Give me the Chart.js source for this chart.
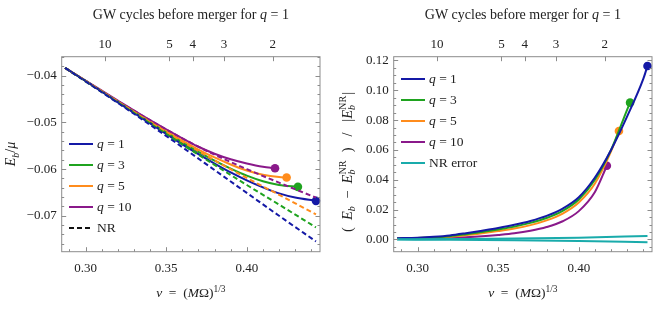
<!DOCTYPE html>
<html>
<head>
<meta charset="utf-8">
<script src="https://cdn.jsdelivr.net/npm/chart.js@4.4.1/dist/chart.umd.min.js"></script>
<style>
  html, body { margin: 0; padding: 0; background: #fff; }
  #wrap { display: flex; width: 664px; height: 309px; }
  canvas { display: block; }
</style>
</head>
<body>
<div id="wrap">
  <canvas id="left" width="332" height="309"></canvas>
  <canvas id="right" width="332" height="309"></canvas>
</div>
<script>
// ---- data ----
// left panel: binding energy E_b/mu vs v
const vNR   = [0.2873, 0.30, 0.32, 0.34, 0.36, 0.38, 0.40, 0.42, 0.4429];
const nrQ1  = [-0.0383, -0.0412, -0.0458, -0.0505, -0.0553, -0.0602, -0.0651, -0.0700, -0.0755];
const nrQ3  = [-0.0383, -0.0412, -0.0457, -0.0502, -0.0547, -0.0591, -0.0634, -0.0676, -0.0725];
const nrQ5  = [-0.0383, -0.0411, -0.0455, -0.0499, -0.0541, -0.0581, -0.0619, -0.0655, -0.0697];
const nrQ10 = [-0.0383, -0.0411, -0.0454, -0.0495, -0.0534, -0.0569, -0.0600, -0.0629, -0.0661];

const vQ1  = [0.2873, 0.30, 0.32, 0.34, 0.36, 0.37, 0.38, 0.39, 0.40, 0.41, 0.42, 0.43, 0.4429];
const eQ1  = [-0.0383, -0.0411, -0.0457, -0.0502, -0.0547, -0.0568, -0.0588, -0.0607, -0.0624, -0.0639, -0.0652, -0.0661, -0.0668];
const vQ3  = [0.2873, 0.30, 0.32, 0.34, 0.36, 0.37, 0.38, 0.39, 0.40, 0.41, 0.42, 0.4317];
const eQ3  = [-0.0383, -0.0411, -0.0456, -0.0500, -0.0543, -0.0563, -0.0582, -0.0599, -0.0614, -0.0626, -0.0634, -0.0638];
const vQ5  = [0.2873, 0.30, 0.32, 0.34, 0.36, 0.37, 0.38, 0.39, 0.40, 0.41, 0.42, 0.4247];
const eQ5  = [-0.0383, -0.0411, -0.0455, -0.0498, -0.0539, -0.0558, -0.0575, -0.0590, -0.0603, -0.0612, -0.0617, -0.0618];
const vQ10 = [0.2873, 0.30, 0.32, 0.34, 0.36, 0.37, 0.38, 0.39, 0.40, 0.41, 0.4175];
const eQ10 = [-0.0383, -0.0410, -0.0453, -0.0495, -0.0534, -0.0552, -0.0567, -0.0579, -0.0588, -0.0595, -0.0598];

// right panel: relative error vs NR
const vR1  = [0.2873, 0.30, 0.31, 0.32, 0.33, 0.34, 0.35, 0.36, 0.37, 0.38, 0.39, 0.40, 0.41, 0.42, 0.43, 0.44, 0.4426];
const rQ1  = [0.0008, 0.0012, 0.0018, 0.0027, 0.0042, 0.0059, 0.0077, 0.0098, 0.0124, 0.0158, 0.0207, 0.0283, 0.0415, 0.0600, 0.0825, 0.1076, 0.1163];
const vR3  = [0.2873, 0.30, 0.31, 0.32, 0.33, 0.34, 0.35, 0.36, 0.37, 0.38, 0.39, 0.40, 0.41, 0.42, 0.43, 0.4318];
const rQ3  = [0.0007, 0.0010, 0.0015, 0.0022, 0.0035, 0.0050, 0.0067, 0.0086, 0.0111, 0.0144, 0.0192, 0.0268, 0.0400, 0.0600, 0.0870, 0.0917];
const vR5  = [0.2873, 0.30, 0.31, 0.32, 0.33, 0.34, 0.35, 0.36, 0.37, 0.38, 0.39, 0.40, 0.41, 0.42, 0.4249];
const rQ5  = [0.0006, 0.0009, 0.0013, 0.0019, 0.0028, 0.0041, 0.0056, 0.0073, 0.0096, 0.0128, 0.0174, 0.0248, 0.0375, 0.0590, 0.0727];
const vR10 = [0.2873, 0.30, 0.31, 0.32, 0.33, 0.34, 0.35, 0.36, 0.37, 0.38, 0.39, 0.40, 0.41, 0.4174];
const rQ10 = [0.0004, 0.0005, 0.0008, 0.0011, 0.0015, 0.0021, 0.0030, 0.0041, 0.0058, 0.0083, 0.0122, 0.0190, 0.0318, 0.0494];
const vErr  = [0.2873, 0.32, 0.36, 0.40, 0.4426];
const errUp = [0.0001, 0.0003, 0.0006, 0.0012, 0.0024];
const errLo = [-0.0001, -0.0002, -0.0005, -0.0010, -0.0019];

// axes
const xMin = 0.2852, xMax = 0.4454;
const xTicks = [0.30, 0.35, 0.40];
const cycleV = [0.3121, 0.3520, 0.3665, 0.3859, 0.4161];
const cycleLabels = ['10', '5', '4', '3', '2'];
const leftYTicks = [-0.07, -0.06, -0.05, -0.04];
const rightYTicks = [0.00, 0.02, 0.04, 0.06, 0.08, 0.10, 0.12];

const SERIF = '"Liberation Serif", "DejaVu Serif", serif';
const C = { q1: '#1419a6', q3: '#1fa31f', q5: '#ff8c1c', q10: '#8a198a', err: '#19abab', nr: '#111' };

function range(a, b, step) {
  const out = [];
  for (let v = a; v <= b + 1e-9; v += step) out.push(+v.toFixed(4));
  return out;
}

function pts(xs, ys) { return xs.map((x, i) => ({ x: x, y: ys[i] })); }

function solid(label, xs, ys, color) {
  return {
    label: label, data: pts(xs, ys), showLine: true,
    borderColor: color, backgroundColor: color, borderWidth: 2,
    cubicInterpolationMode: 'monotone', clip: false,
    pointRadius: c => c.dataIndex === c.dataset.data.length - 1 ? 4.3 : 0,
    pointBorderWidth: 0, pointBackgroundColor: color
  };
}

function dashed(label, xs, ys, color) {
  return {
    label: label, data: pts(xs, ys), showLine: true,
    borderColor: color, borderWidth: 2, borderDash: [5, 3],
    cubicInterpolationMode: 'monotone', pointRadius: 0
  };
}

function plain(label, xs, ys, color) {
  return {
    label: label, data: pts(xs, ys), showLine: true,
    borderColor: color, borderWidth: 2,
    cubicInterpolationMode: 'monotone', pointRadius: 0
  };
}

// rich text: segments {t, i (italic), s (scale), dy} or {sub, sup}
function fnt(size, italic) { return (italic ? 'italic ' : '') + size + 'px ' + SERIF; }

function segW(ctx, sg, size) {
  if (sg.sub !== undefined) {
    ctx.font = fnt(size * 0.7, true);
    const a = ctx.measureText(sg.sub).width;
    ctx.font = fnt(size * 0.7, false);
    const b = ctx.measureText(sg.sup).width;
    return Math.max(a, b) + 1;
  }
  ctx.font = fnt(size * (sg.s || 1), sg.i);
  return ctx.measureText(sg.t).width;
}

function drawRich(ctx, segs, x0, y0, size, align, angle) {
  ctx.save();
  ctx.translate(x0, y0);
  ctx.rotate(angle || 0);
  const total = segs.reduce((a, sg) => a + segW(ctx, sg, size), 0);
  let x = align === 'left' ? 0 : -total / 2;
  const base = size * 0.32;
  ctx.textAlign = 'left';
  ctx.textBaseline = 'alphabetic';
  ctx.fillStyle = '#222';
  segs.forEach(sg => {
    const w = segW(ctx, sg, size);
    if (sg.sub !== undefined) {
      ctx.font = fnt(size * 0.7, true);
      ctx.fillText(sg.sub, x, base + size * 0.25);
      ctx.font = fnt(size * 0.7, false);
      ctx.fillText(sg.sup, x, base - size * 0.42);
    } else {
      ctx.font = fnt(size * (sg.s || 1), sg.i);
      ctx.fillText(sg.t, x, base + (sg.dy || 0) * size);
    }
    x += w;
  });
  ctx.restore();
}

const titleSegs = [{ t: 'GW cycles before merger for ' }, { t: 'q', i: true }, { t: ' = 1' }];
const xTitleSegs = [{ t: 'v', i: true }, { t: '  =  (' }, { t: 'M', i: true }, { t: 'Ω)' }, { t: '1/3', s: 0.7, dy: -0.42 }];
const leftYTitle = [{ t: 'E', i: true }, { t: 'b', i: true, s: 0.7, dy: 0.25 }, { t: '/' }, { t: 'μ', i: true }];
const rightYTitle = [
  { t: '(  ' }, { t: 'E', i: true }, { t: 'b', i: true, s: 0.7, dy: 0.25 }, { t: '  −  ' },
  { t: 'E', i: true }, { sub: 'b', sup: 'NR' }, { t: '  )   /   |' },
  { t: 'E', i: true }, { sub: 'b', sup: 'NR' }, { t: '|' }
];
function qSegs(n) { return [{ t: 'q', i: true }, { t: ' = ' + n }]; }

const decoPlugin = {
  id: 'deco',
  beforeDraw(chart) {
    const ctx = chart.ctx;
    ctx.save();
    ctx.fillStyle = '#fff';
    ctx.fillRect(0, 0, chart.width, chart.height);
    ctx.restore();
  },
  afterDraw(chart, args, o) {
    const ctx = chart.ctx, a = chart.chartArea, sx = chart.scales.x, sy = chart.scales.y;
    ctx.save();
    ctx.strokeStyle = '#8c8c8c';
    ctx.lineWidth = 1;
    ctx.strokeRect(a.left, a.top, a.right - a.left, a.bottom - a.top);
    const seg = (x1, y1, x2, y2) => { ctx.beginPath(); ctx.moveTo(x1, y1); ctx.lineTo(x2, y2); ctx.stroke(); };
    range(0.29, 0.44, 0.01).forEach(v => {
      const x = Math.round(sx.getPixelForValue(v)) + 0.5;
      const len = xTicks.some(t => Math.abs(t - v) < 1e-6) ? 4.5 : 2.5;
      seg(x, a.bottom, x, a.bottom - len);
    });
    cycleV.forEach(v => {
      const x = Math.round(sx.getPixelForValue(v)) + 0.5;
      seg(x, a.top, x, a.top + 4.5);
    });
    o.yMinor.forEach(v => {
      const y = Math.round(sy.getPixelForValue(v)) + 0.5;
      if (y < a.top || y > a.bottom) return;
      const len = o.yMajor.some(t => Math.abs(t - v) < 1e-6) ? 4.5 : 2.5;
      seg(a.left, y, a.left + len, y);
      seg(a.right, y, a.right - len, y);
    });
    const cx = (a.left + a.right) / 2;
    drawRich(ctx, titleSegs, cx, 15, 14, 'center');
    drawRich(ctx, xTitleSegs, cx, 293, 13.5, 'center');
    drawRich(ctx, o.yTitle, o.yTitleX, o.yTitleY, o.yTitleSize, 'center', -Math.PI / 2);
    o.legend.forEach((e, i) => {
      const y = o.legendY + i * 21;
      ctx.strokeStyle = e.color;
      ctx.lineWidth = 2;
      ctx.setLineDash(e.dash ? [5, 3] : []);
      seg(69, y, 93, y);
      ctx.setLineDash([]);
      drawRich(ctx, e.segs, 97, y, 13.5, 'left');
    });
    ctx.restore();
  }
};

function buildChart(id, datasets, yMin, yMax, yTicks, yFmt, deco) {
  const tickFont = { family: SERIF, size: 13 };
  return new Chart(document.getElementById(id), {
    type: 'scatter',
    data: { datasets: datasets },
    options: {
      responsive: false,
      animation: false,
      layout: { padding: { left: 0, right: 12, top: 0, bottom: 0 } },
      plugins: { legend: { display: false }, tooltip: { enabled: false }, deco: deco },
      scales: {
        x: {
          type: 'linear', position: 'bottom', min: xMin, max: xMax,
          grid: { display: false, drawTicks: false }, border: { display: false },
          ticks: { font: tickFont, color: '#222', padding: 9, maxRotation: 0, callback: v => v.toFixed(2) },
          afterBuildTicks: s => { s.ticks = xTicks.map(v => ({ value: v })); },
          afterFit: s => { s.height = 57.3; }
        },
        x2: {
          type: 'linear', position: 'top', min: xMin, max: xMax,
          grid: { display: false, drawTicks: false }, border: { display: false },
          ticks: { font: tickFont, color: '#222', padding: 4, maxRotation: 0, callback: (v, i) => cycleLabels[i] },
          afterBuildTicks: s => { s.ticks = cycleV.map(v => ({ value: v })); },
          afterFit: s => { s.height = 56.7; }
        },
        y: {
          type: 'linear', min: yMin, max: yMax,
          grid: { display: false, drawTicks: false }, border: { display: false },
          ticks: { font: tickFont, color: '#222', padding: 5, callback: yFmt },
          afterBuildTicks: s => { s.ticks = yTicks.map(v => ({ value: v })); },
          afterFit: s => { s.width = 61.7; }
        }
      }
    },
    plugins: [decoPlugin]
  });
}

buildChart('left', [
  dashed('NR q=1', vNR, nrQ1, C.q1),
  dashed('NR q=3', vNR, nrQ3, C.q3),
  dashed('NR q=5', vNR, nrQ5, C.q5),
  dashed('NR q=10', vNR, nrQ10, C.q10),
  solid('q = 1', vQ1, eQ1, C.q1),
  solid('q = 3', vQ3, eQ3, C.q3),
  solid('q = 5', vQ5, eQ5, C.q5),
  solid('q = 10', vQ10, eQ10, C.q10)
], -0.0777, -0.0359, leftYTicks, v => '−' + Math.abs(v).toFixed(2), {
  yMajor: leftYTicks, yMinor: range(-0.078, -0.036, 0.002),
  yTitle: leftYTitle, yTitleX: 11, yTitleY: 154, yTitleSize: 14,
  legendY: 144,
  legend: [
    { color: C.q1, segs: qSegs(1) },
    { color: C.q3, segs: qSegs(3) },
    { color: C.q5, segs: qSegs(5) },
    { color: C.q10, segs: qSegs(10) },
    { color: C.nr, dash: true, segs: [{ t: 'NR' }] }
  ]
});

buildChart('right', [
  plain('NR error +', vErr, errUp, C.err),
  plain('NR error −', vErr, errLo, C.err),
  solid('q = 1', vR1, rQ1, C.q1),
  solid('q = 3', vR3, rQ3, C.q3),
  solid('q = 5', vR5, rQ5, C.q5),
  solid('q = 10', vR10, rQ10, C.q10)
], -0.0082, 0.1225, rightYTicks, v => v.toFixed(2), {
  yMajor: rightYTicks, yMinor: range(-0.005, 0.12, 0.005),
  yTitle: rightYTitle, yTitleX: 15, yTitleY: 162, yTitleSize: 14.5,
  legendY: 79,
  legend: [
    { color: C.q1, segs: qSegs(1) },
    { color: C.q3, segs: qSegs(3) },
    { color: C.q5, segs: qSegs(5) },
    { color: C.q10, segs: qSegs(10) },
    { color: C.err, segs: [{ t: 'NR error' }] }
  ]
});
</script>
</body>
</html>
